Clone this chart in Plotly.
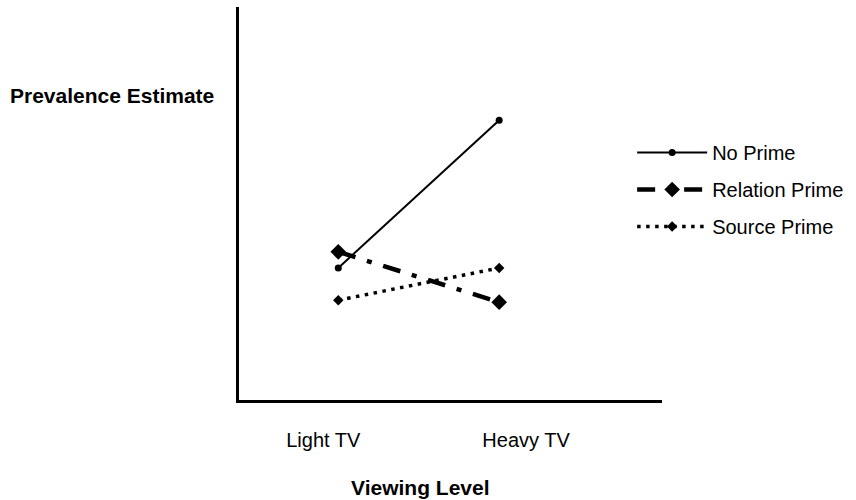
import plotly.graph_objects as go

categories = ["Light TV", "Heavy TV"]
no_prime = [33.6, 71.2]
relation_prime = [37.7, 24.9]
source_prime = [25.4, 33.6]

x_idx = list(range(len(categories)))
FONT = "Liberation Sans, Arial, Helvetica, sans-serif"

fig = go.Figure()
fig.add_trace(go.Scatter(
    x=x_idx, y=no_prime, name="No Prime", mode="lines+markers",
    line=dict(color="black", width=2), marker=dict(symbol="circle", size=7, color="black"),
    legendgroup="a"))
fig.add_trace(go.Scatter(
    x=x_idx, y=relation_prime, name="Relation Prime", mode="lines+markers",
    line=dict(color="black", width=4.5, dash="18px,12px,5px,12px"),
    marker=dict(symbol="diamond", size=12, color="black"),
    legendgroup="b"))
fig.add_trace(go.Scatter(
    x=x_idx, y=source_prime, name="Source Prime", mode="lines+markers",
    line=dict(color="black", width=3.5, dash="3.5px,5.5px"),
    marker=dict(symbol="diamond", size=8, color="black"),
    legendgroup="c"))

PL, PR, PT, PB = 239, 664, 7, 400
PW, PH = PR - PL, PB - PT

fig.update_layout(
    width=856, height=500,
    margin=dict(l=PL, r=856 - PR, t=PT, b=500 - PB),
    paper_bgcolor="white", plot_bgcolor="white",
    font=dict(family=FONT, size=20, color="black"),
    showlegend=True,
    legend=dict(x=(634 - PL) / PW, y=(PB - 133) / PH, xanchor="left", yanchor="top",
                font=dict(size=20), itemwidth=70, tracegroupgap=8,
                bgcolor="rgba(0,0,0,0)"),
    xaxis=dict(range=[-0.617, 2.012], showgrid=False, zeroline=False,
               showline=True, linecolor="black", linewidth=3,
               tickmode="array", tickvals=[-0.093, 1.167], ticktext=categories,
               ticks="", ticklabelstandoff=20, tickfont=dict(size=20)),
    yaxis=dict(range=[0, 100], showgrid=False, zeroline=False,
               showline=True, linecolor="black", linewidth=3,
               showticklabels=False, ticks=""),
    annotations=[
        dict(text="<b>Prevalence Estimate</b>", xref="paper", yref="paper",
             x=(7 - PL) / PW, y=(PB - 95) / PH, xanchor="left", yanchor="middle",
             showarrow=False, font=dict(size=21)),
        dict(text="<b>Viewing Level</b>", xref="paper", yref="paper",
             x=(421 - PL) / PW, y=-(487 - PB) / PH, xanchor="center", yanchor="middle",
             showarrow=False, font=dict(size=21)),
    ],
)

fig.write_html("out.html", config={"displayModeBar": False})
with open("out.html", "r", encoding="utf-8") as f:
    html = f.read()
html = html.replace("<body>", '<body style="margin:0;padding:0;overflow:hidden">', 1)
with open("out.html", "w", encoding="utf-8") as f:
    f.write(html)
